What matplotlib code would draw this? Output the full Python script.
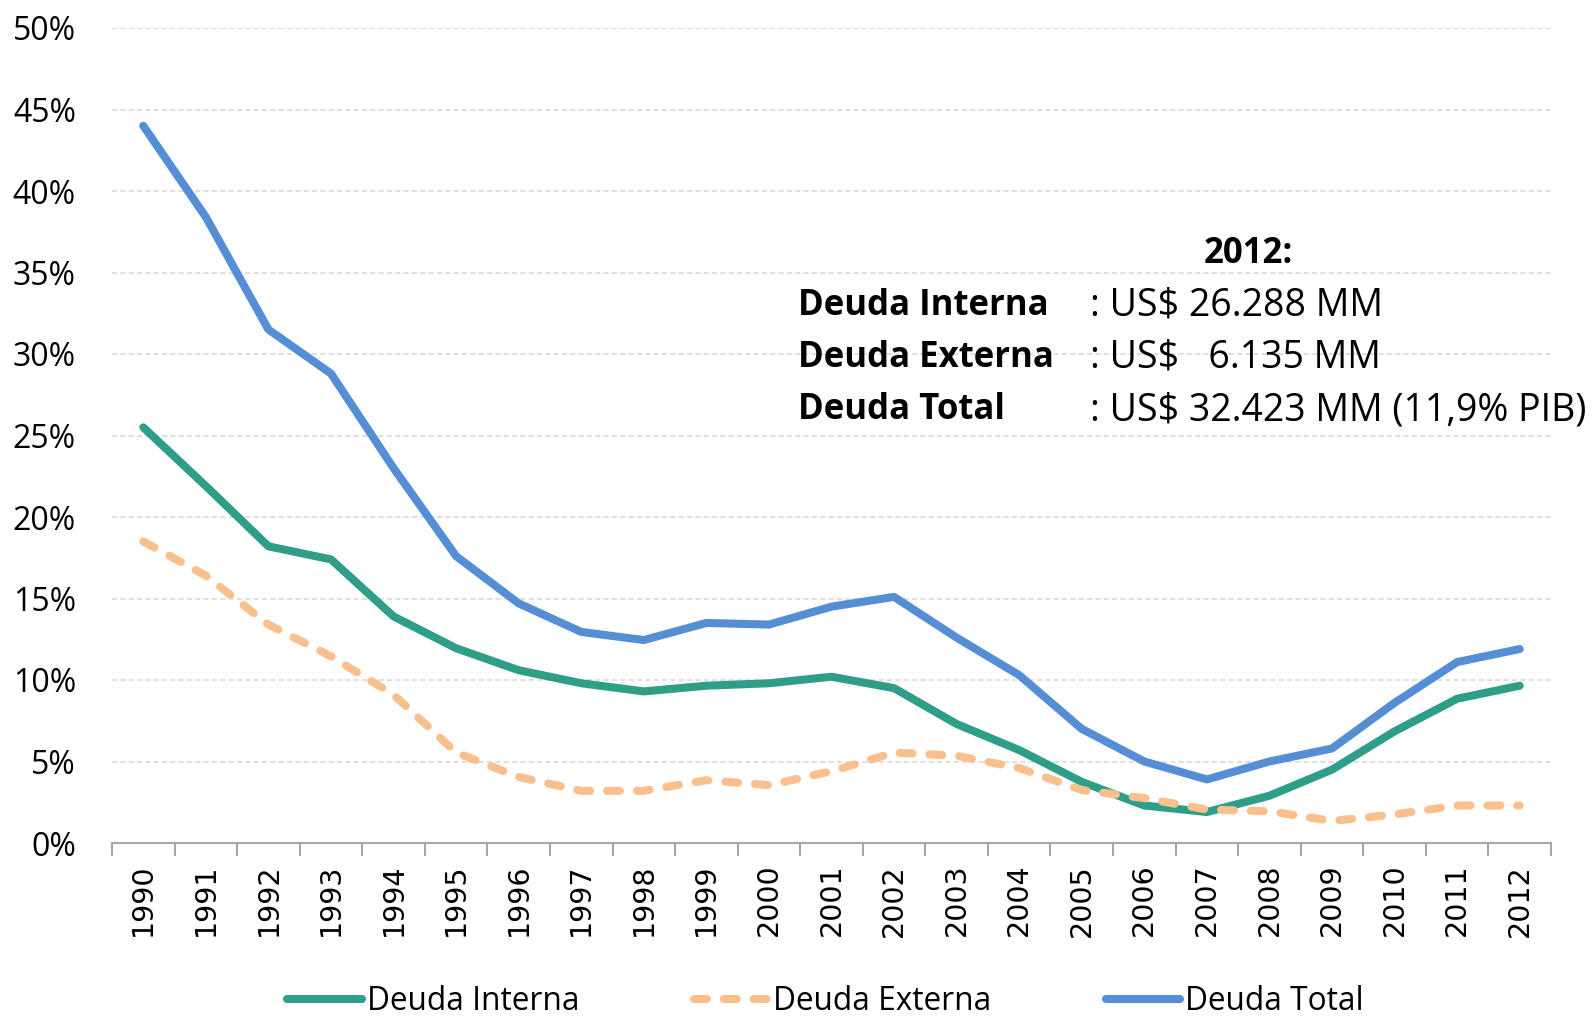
import matplotlib
matplotlib.use("Agg")
import matplotlib.pyplot as plt
from matplotlib.ticker import FixedLocator, PercentFormatter


# Deuda publica como % del PIB
years = list(range(1990, 2013))
deuda_interna = [25.5, 21.9, 18.2, 17.4, 13.9, 11.95, 10.6, 9.8, 9.3, 9.65, 9.8, 10.2,
                 9.5, 7.3, 5.7, 3.75, 2.3, 1.9, 2.9, 4.5, 6.85, 8.85, 9.65]
deuda_externa = [18.5, 16.4, 13.4, 11.45, 9.1, 5.55, 4.05, 3.2, 3.2, 3.85, 3.55, 4.4,
                 5.55, 5.35, 4.6, 3.25, 2.75, 2.05, 1.95, 1.35, 1.75, 2.3, 2.3]
deuda_total = [44.0, 38.4, 31.5, 28.8, 23.0, 17.6, 14.7, 12.95, 12.45, 13.5, 13.4, 14.5,
               15.1, 12.6, 10.3, 7.0, 5.0, 3.9, 5.0, 5.8, 8.6, 11.1, 11.9]

labels = ["Deuda Interna", "Deuda Externa", "Deuda Total"]
resumen_titulo = "2012:"
resumen_nombres = ["Deuda Interna", "Deuda Externa", "Deuda Total"]
resumen_valores = [": US$ 26.288 MM", ": US$   6.135 MM", ": US$ 32.423 MM (11,9% PIB)"]

W, H = 1595, 1016
fig = plt.figure(figsize=(W / 100, H / 100), dpi=100)
ax = fig.add_axes([112 / W, 1 - 843 / H, (1551 - 112) / W, (843 - 28) / H])

x = list(range(len(years)))
lw = 5.8
ax.plot(x, [v / 100 for v in deuda_interna], color="#2E9E88", lw=lw,
        solid_capstyle="round", solid_joinstyle="round", label=labels[0], zorder=3)
ax.plot(x, [v / 100 for v in deuda_externa], color="#F9C08E", lw=lw,
        dashes=(1.6, 2.1), dash_capstyle="round", dash_joinstyle="round",
        label=labels[1], zorder=4)
ax.plot(x, [v / 100 for v in deuda_total], color="#558ED5", lw=lw,
        solid_capstyle="round", solid_joinstyle="round", label=labels[2], zorder=5)

ax.set_xlim(-0.5, len(years) - 0.5)
ax.set_ylim(0, 0.5)

# eje y
ax.yaxis.set_major_locator(FixedLocator([i * 0.05 for i in range(11)]))
ax.yaxis.set_major_formatter(PercentFormatter(1.0, decimals=0))
ax.tick_params(axis="y", length=0, pad=26, labelsize=23)
for t in ax.get_yticklabels():
    t.set_family("Open Sans")
ax.grid(axis="y", color="#d9d9d9", lw=1.2, ls=(0, (3, 2)))
ax.set_axisbelow(True)

# eje x: etiquetas en el centro, marcas entre categorias
ax.set_xticks(x)
ax.set_xticklabels([str(y) for y in years], rotation=90, fontsize=20.5,
                   family="DejaVu Sans")
ax.tick_params(axis="x", which="major", length=0, pad=15)
ax.set_xticks([i - 0.5 for i in range(len(years) + 1)], minor=True)
ax.tick_params(axis="x", which="minor", length=9, width=1.5, color="#a6a6a6",
               direction="out")

for s in ["top", "right", "left"]:
    ax.spines[s].set_visible(False)
ax.spines["bottom"].set_color("#a6a6a6")
ax.spines["bottom"].set_linewidth(1.5)

# resumen 2012
fig.text(1248 / W, 1 - 254 / H, resumen_titulo, ha="center", va="center",
         fontsize=25, fontweight="bold", family="Open Sans")
for i, (nombre, valor) in enumerate(zip(resumen_nombres, resumen_valores)):
    yy = 1 - (306 + 52 * i) / H
    fig.text(798 / W, yy, nombre, ha="left", va="center", fontsize=25,
             fontweight="bold", family="Open Sans")
    fig.text(1090 / W, yy, valor, ha="left", va="center", fontsize=27,
             family="Open Sans")

leg = fig.legend(loc="center", bbox_to_anchor=(0.5175, 1 - 1002 / H), ncol=3,
                 frameon=False, prop={"family": "Open Sans", "size": 22.8},
                 handlelength=2.35, handletextpad=0.15, columnspacing=3.62,
                 borderpad=0, borderaxespad=0)

fig.savefig("out.png", dpi=100)
